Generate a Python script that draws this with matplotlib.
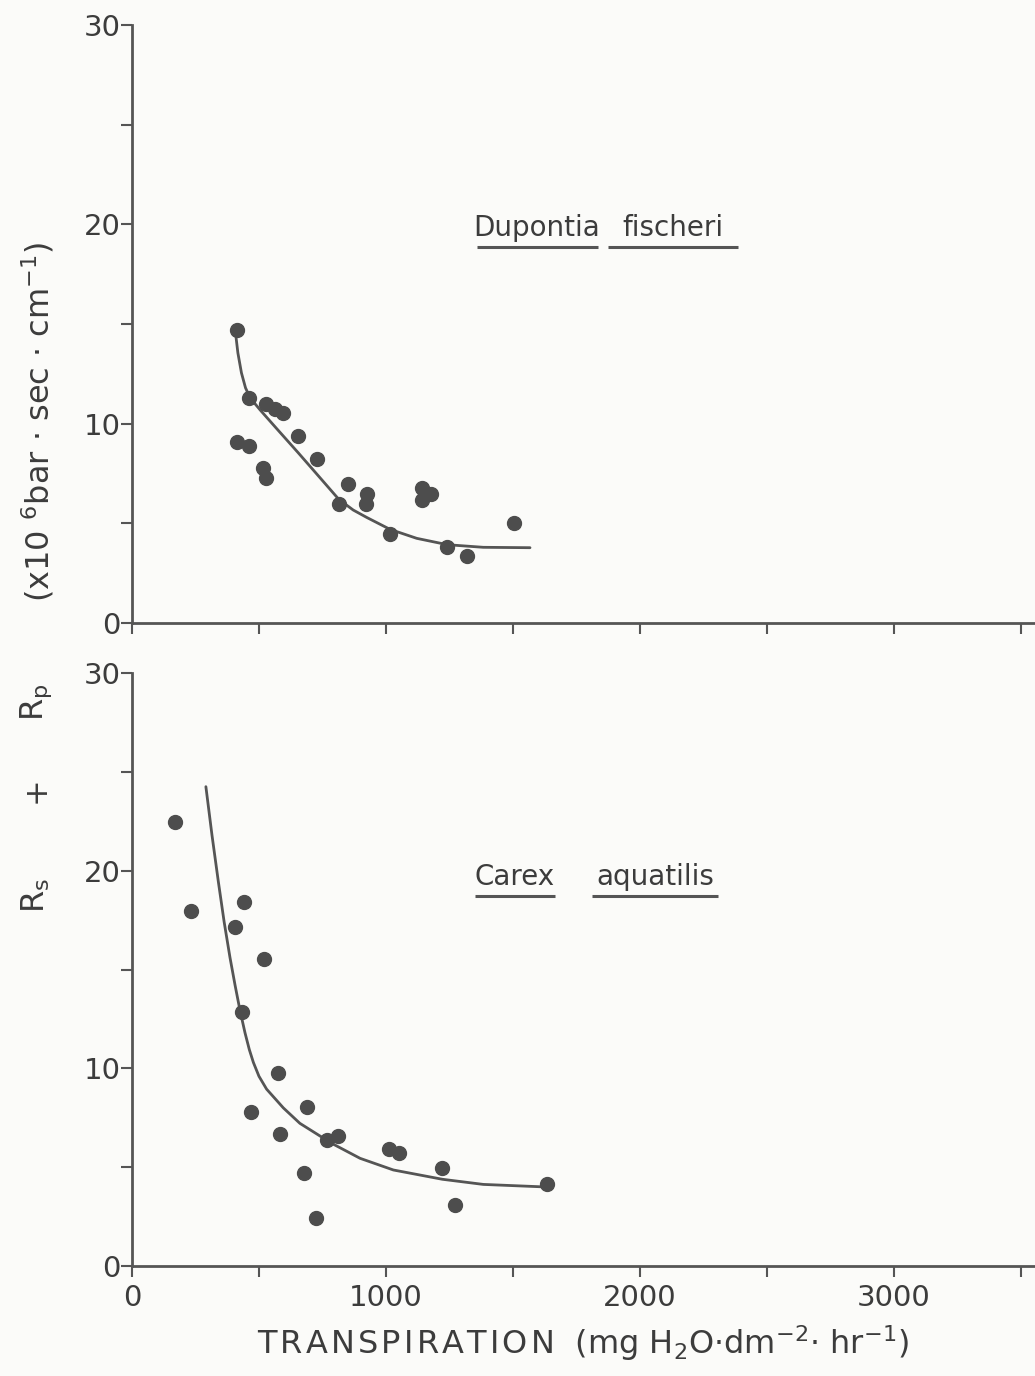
import matplotlib
matplotlib.use("Agg")
import matplotlib.pyplot as plt
from matplotlib.ticker import FixedLocator

plt.rcParams['font.family'] = ['DejaVu Sans']
plt.rcParams['mathtext.default'] = 'regular'

# Dupontia fischeri: transpiration vs. Rs + Rp
dup_x = [412, 461, 527, 563, 596, 415, 461, 514, 526, 654, 730, 850, 814,
         925, 921, 1140, 1177, 1143, 1016, 1241, 1320, 1503]
dup_y = [14.7, 11.27, 10.97, 10.73, 10.55, 9.07, 8.9, 7.78, 7.27, 9.37, 8.25,
         6.98, 5.98, 6.45, 5.98, 6.78, 6.45, 6.15, 4.45, 3.82, 3.38, 5.02]
# fitted curve for Dupontia
dup_fit_x = [406, 417, 431, 447, 465, 504, 570, 654, 730, 814, 871, 924,
             1016, 1121, 1242, 1383, 1567]
dup_fit_y = [14.74, 13.55, 12.55, 11.8, 11.3, 10.7, 9.75, 8.55, 7.44, 6.21,
             5.67, 5.30, 4.70, 4.25, 3.93, 3.80, 3.78]

# Carex aquatilis
car_x = [169, 232, 442, 406, 520, 432, 576, 469, 584, 688, 678, 726, 766,
         810, 1011, 1051, 1222, 1272, 1635]
car_y = [22.47, 17.94, 18.43, 17.13, 15.51, 12.87, 9.78, 7.77, 6.69, 8.06,
         4.7, 2.44, 6.37, 6.56, 5.92, 5.7, 4.97, 3.07, 4.15]
# fitted curve for Carex
car_fit_x = [291, 315, 340, 363, 386, 406, 425, 445, 462, 478, 500, 530, 596,
             661, 786, 898, 1029, 1222, 1383, 1630]
car_fit_y = [24.25, 21.8, 19.45, 17.4, 15.6, 14.2, 12.95, 11.8, 10.95, 10.3,
             9.6, 8.95, 8.0, 7.22, 6.21, 5.45, 4.86, 4.39, 4.13, 4.0]

x_major = [0, 1000, 2000, 3000]
x_minor = [500, 1500, 2500, 3500]
y_major = [0, 10, 20, 30]
y_minor = [5, 15, 25]

ink = '#4d4d4d'
line_c = '#555555'
text_c = '#3c3c3c'
paper = '#fbfbf9'

fig = plt.figure(figsize=(10.35, 13.76), dpi=100, facecolor=paper)
ax_top = fig.add_axes([0.1275, 0.5472, 0.8725, 0.4346], facecolor=paper)
ax_bot = fig.add_axes([0.1275, 0.0799, 0.8725, 0.4310], facecolor=paper)

for ax in (ax_top, ax_bot):
    ax.set_xlim(0, 3555)
    ax.set_ylim(0, 30)
    for s in ('top', 'right'):
        ax.spines[s].set_visible(False)
    for s in ('left', 'bottom'):
        ax.spines[s].set_color(line_c)
        ax.spines[s].set_linewidth(2.0)
    ax.xaxis.set_major_locator(FixedLocator(x_major))
    ax.xaxis.set_minor_locator(FixedLocator(x_minor))
    ax.yaxis.set_major_locator(FixedLocator(y_major))
    ax.yaxis.set_minor_locator(FixedLocator(y_minor))
    ax.tick_params(which='both', direction='out', length=8, width=1.5,
                   color=line_c, labelcolor=text_c)
    ax.tick_params(axis='y', which='major', labelsize=21, pad=0)
    ax.tick_params(axis='x', which='major', labelsize=21, pad=5)

ax_top.tick_params(axis='x', labelbottom=False)

ax_top.plot(dup_fit_x, dup_fit_y, color=line_c, lw=2.0,
            solid_capstyle='round', solid_joinstyle='round')
ax_top.plot(dup_x, dup_y, 'o', color=ink, ms=10, mec=ink, clip_on=False)

ax_bot.plot(car_fit_x, car_fit_y, color=line_c, lw=2.0,
            solid_capstyle='round', solid_joinstyle='round')
ax_bot.plot(car_x, car_y, 'o', color=ink, ms=10, mec=ink, clip_on=False)


# species names, each word underlined
def species(ax, words, y_text, y_line):
    for cx, x0, x1, w in words:
        ax.text(cx, y_text, w, ha='center', va='center', fontsize=20, color=text_c)
        ax.plot([x0, x1], [y_line, y_line], color=line_c, lw=2.2,
                solid_capstyle='butt')


species(ax_top, [(1595, 1358, 1835, 'Dupontia'), (2130, 1874, 2386, 'fischeri')],
        19.8, 18.87)
species(ax_bot, [(1508, 1350, 1665, 'Carex'), (2059, 1811, 2307, 'aquatilis')],
        19.68, 18.72)

# x-axis title with slightly opened letter spacing
hs = '\u200a'
title_word = hs.join('TRANSPIRATION')
ax_bot.set_xlabel(title_word + r'  (mg H$_2$O·dm$^{-2}$· hr$^{-1}$)',
                  fontsize=23, color=text_c, labelpad=8)

# y-axis title, drawn in pieces spread along the left margin
ylab = dict(rotation=90, ha='center', va='center', color=text_c)
fig.text(0.035, 0.349, r'R$_s$', fontsize=23, **ylab)
fig.text(0.035, 0.4259, '+', fontsize=23, **ylab)
fig.text(0.035, 0.4896, r'R$_p$', fontsize=23, **ylab)
fig.text(0.037, 0.6933, r'(x10 $^6$bar · sec · cm$^{-1}$)', fontsize=23, **ylab)

fig.savefig('out.png', dpi=100, facecolor=paper)
